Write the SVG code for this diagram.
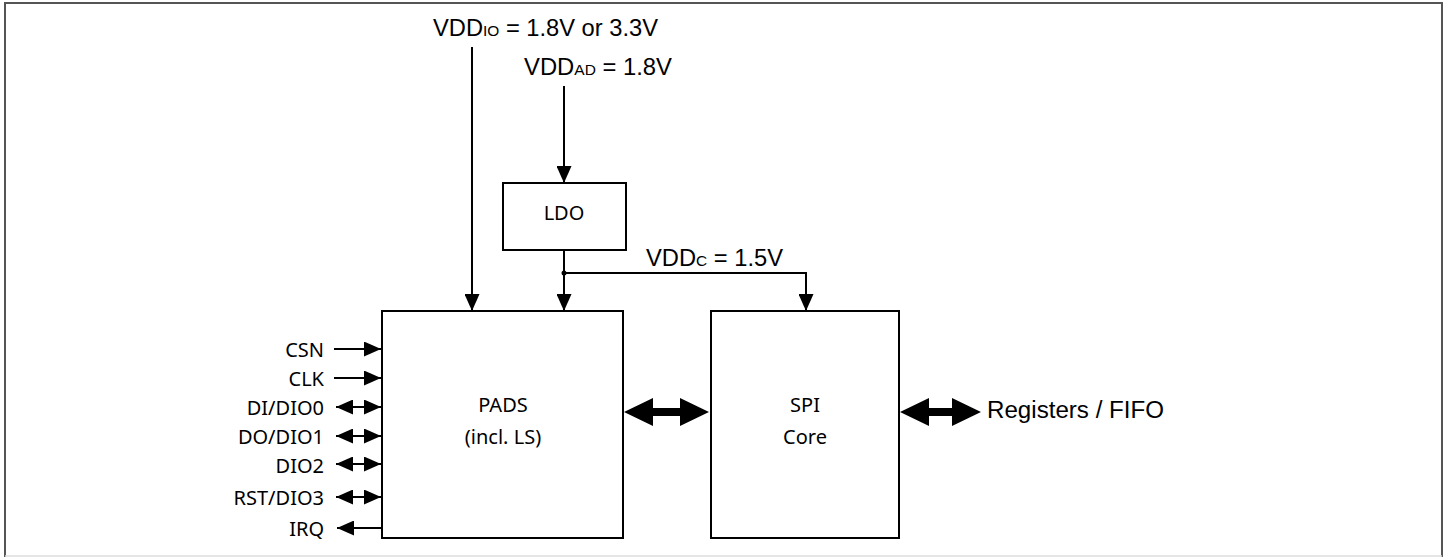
<svg xmlns="http://www.w3.org/2000/svg" width="1448" height="557" viewBox="0 0 1448 557">
<style>
.box{fill:#fff;stroke:#000;stroke-width:2}
.ln{fill:none;stroke:#000;stroke-width:2}
.ar{font-family:"Liberation Sans",Arial,sans-serif;font-size:23px;fill:#000}
.sub{font-size:15px}
.nt{font-family:"Noto Sans",sans-serif;font-size:20px;fill:#000}
</style>
<defs>
<marker id="sm" viewBox="0 0 17 15" refX="17" refY="7.5" markerWidth="17" markerHeight="15" markerUnits="userSpaceOnUse" orient="auto-start-reverse"><path d="M0,0L17,7.5L0,15Z" fill="#000"/></marker>
</defs>
<rect x="0" y="0" width="1448" height="557" fill="#fff"/>
<path d="M5,557V3H1442V557" fill="none" stroke="#555" stroke-width="2"/>
<path d="M5,556H1442" stroke="#ddd" stroke-width="1.5"/>
<g id="pads"><rect class="box" x="382" y="311" width="241" height="227"/><text class="nt" x="503" y="412" text-anchor="middle">PADS</text><text class="nt" x="503" y="444" text-anchor="middle">(incl. LS)</text></g>
<g id="spi"><rect class="box" x="711" y="311" width="188" height="227"/><text class="nt" x="805" y="412" text-anchor="middle">SPI</text><text class="nt" x="805" y="444" text-anchor="middle">Core</text></g>
<g id="ldo"><rect class="box" x="503" y="183" width="123" height="67"/><text class="nt" x="564" y="220" text-anchor="middle">LDO</text></g>
<g id="labels">
<text class="ar" x="433" y="36" textLength="225" lengthAdjust="spacingAndGlyphs">VDD<tspan class="sub">IO</tspan> = 1.8V or 3.3V</text>
<text class="ar" x="524" y="75" textLength="148" lengthAdjust="spacingAndGlyphs">VDD<tspan class="sub">AD</tspan> = 1.8V</text>
<text class="ar" x="646" y="266" textLength="137" lengthAdjust="spacingAndGlyphs">VDD<tspan class="sub">C</tspan> = 1.5V</text>
<text class="ar" x="987" y="418" textLength="177" lengthAdjust="spacingAndGlyphs">Registers / FIFO</text>
<g class="nt" text-anchor="end">
<text x="324" y="357">CSN</text>
<text x="324" y="386">CLK</text>
<text x="324" y="415">DI/DIO0</text>
<text x="324" y="444">DO/DIO1</text>
<text x="324" y="473">DIO2</text>
<text x="324" y="505">RST/DIO3</text>
<text x="324" y="536">IRQ</text>
</g>
</g>
<g id="connectors">
<path class="ln" d="M472,47V311" marker-end="url(#sm)"/>
<path class="ln" d="M564,86V183" marker-end="url(#sm)"/>
<path class="ln" d="M564,250V311" marker-end="url(#sm)"/>
<path class="ln" d="M564,273H806V311" marker-end="url(#sm)"/>
<circle cx="564" cy="273" r="2.5" fill="#000"/>
<path class="ln" d="M334,349H381" marker-end="url(#sm)"/>
<path class="ln" d="M334,378H381" marker-end="url(#sm)"/>
<path class="ln" d="M336,407H381" marker-start="url(#sm)" marker-end="url(#sm)"/>
<path class="ln" d="M336,436H381" marker-start="url(#sm)" marker-end="url(#sm)"/>
<path class="ln" d="M336,464H381" marker-start="url(#sm)" marker-end="url(#sm)"/>
<path class="ln" d="M336,497H381" marker-start="url(#sm)" marker-end="url(#sm)"/>
<path class="ln" d="M381,528H337" marker-end="url(#sm)"/>
<g fill="#000">
<path d="M624,412L653,398V408H680V398L709,412L680,426V416H653V426Z"/>
<path d="M900,412L929,398V408H952V398L981,412L952,426V416H929V426Z"/>
</g>
</g>
</svg>
